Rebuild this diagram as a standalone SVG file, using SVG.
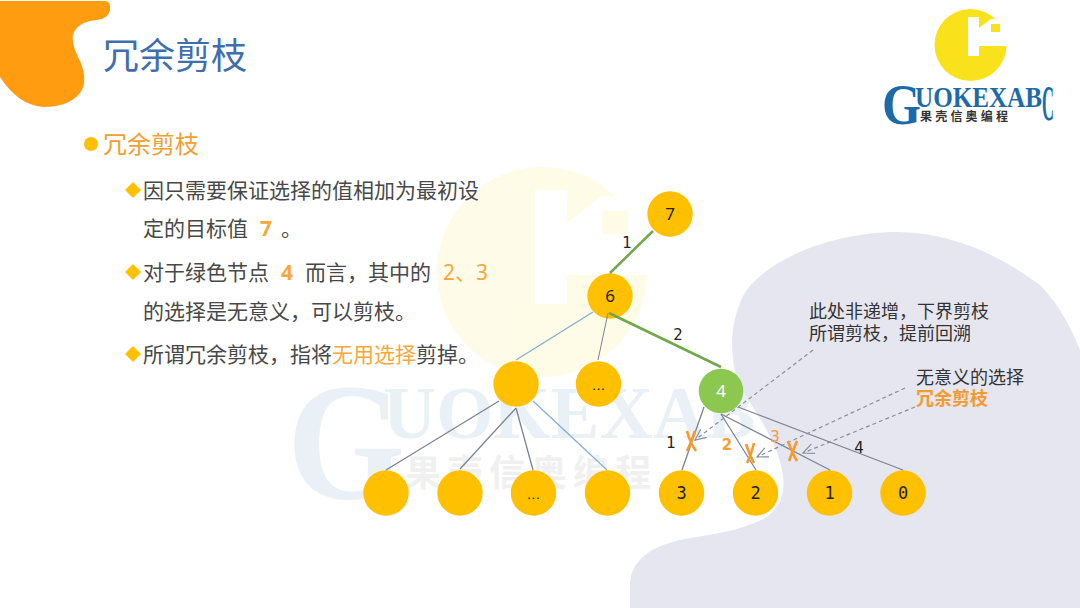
<svg xmlns="http://www.w3.org/2000/svg" width="1080" height="608" viewBox="0 0 1080 608">
<style>
text{font-family:"Noto Sans CJK SC","Noto Sans",sans-serif}
.body{font-size:21px;fill:#484848}
.hi{font-size:21px;fill:#F9A63A}
.num{font-family:"Noto Sans","Noto Sans CJK SC",sans-serif}
.call{font-size:18px;fill:#333}
.n{fill:#FFC000}
.nt{font-family:"Noto Sans",sans-serif;font-size:17px;fill:#222;text-anchor:middle}
.mono{font-family:"DejaVu Sans Mono",monospace;font-size:17px;fill:#222;text-anchor:middle}
.el{font-family:"DejaVu Sans",sans-serif;font-size:15px;fill:#222;text-anchor:middle}
.elo{font-family:"DejaVu Sans",sans-serif;font-size:15px;fill:#F5A033;text-anchor:middle;font-weight:bold}
.dots{font-family:"Liberation Sans",sans-serif;font-size:14px;fill:#222;text-anchor:middle}
.g{stroke:#70A84A;stroke-width:2.5;fill:none}
.b{stroke:#7FAED8;stroke-width:1.2;fill:none}
.k{stroke:#7C8492;stroke-width:1.3;fill:none}
.d{stroke:#8A8E9C;stroke-width:1.2;stroke-dasharray:4 3;fill:none}
.x{stroke:#F59A2E;stroke-width:2.6;fill:none}
.dia{fill:#FFC000}
.lg{font-family:"Liberation Serif",serif;font-weight:bold;fill:#1B6BA8}
</style>
<defs>
<marker id="a" markerWidth="14" markerHeight="14" refX="12" refY="7" orient="auto" markerUnits="userSpaceOnUse"><path d="M1 2L12 7L1 12" fill="none" stroke="#8A8E9C" stroke-width="1.2"/></marker>
<g id="mark">
<circle cx="970.5" cy="45" r="36" fill="#F9E21C"/>
<path d="M968 17H979V28L991 19H1010V46H979V56H968Z" fill="#fff"/>
<rect x="991" y="24" width="9" height="8" fill="#F9E21C"/>
</g>
<path id="dm" d="M0-8L8 0L0 8L-8 0Z"/>
</defs>

<g id="background">
<path d="M0 1H105Q111 1 110 10Q108 19 97 20Q80 21 74 32Q70 40 78 57Q88 76 82 90Q72 107 43 107Q18 105 0 77Z" fill="#FF9C0F"/>
<g id="watermark-mark" opacity="0.1" transform="translate(542 272) scale(2.917) translate(-970.5 -45)"><use href="#mark"/></g>
<g id="watermark-text" opacity="0.09">
<text class="lg" x="287" y="498" font-size="168" textLength="118" lengthAdjust="spacingAndGlyphs">G</text>
<text class="lg" x="383" y="438" font-size="73" textLength="372" lengthAdjust="spacingAndGlyphs">UOKEXAB</text>
</g>
<text x="405" y="486" font-size="36" letter-spacing="6" fill="#F0F0F0" font-weight="bold">果壳信奥编程</text>
<path d="M630 608V583C632 560 650 547 680 540C705 535 740 532 765 518C782 506 788 490 780 462C772 430 745 400 736 375C730 350 730 325 742 298C760 262 830 232 897 232C950 232 1000 255 1040 285C1060 305 1072 330 1080 350V608Z" fill="#E6E6F0"/>
</g>

<g id="logo">
<use href="#mark"/>
<text class="lg" x="882" y="124" font-size="57" textLength="39" lengthAdjust="spacingAndGlyphs">G</text>
<text class="lg" x="915" y="107" font-size="29" textLength="127" lengthAdjust="spacingAndGlyphs">UOKEXAB</text>
<text x="1042" y="120" font-size="50" font-weight="bold" style="font-family:'Liberation Serif',serif" fill="#1B6BA8" textLength="12" lengthAdjust="spacingAndGlyphs">C</text>
<text x="920" y="121" font-size="12" letter-spacing="3.2" fill="#333" font-weight="bold">果壳信奥编程</text>
</g>

<g id="title">
<text x="103" y="69" font-size="36" fill="#3F6EAE">冗余剪枝</text>
</g>

<g id="bullets">
<circle cx="91" cy="144" r="7" fill="#FFC000"/>
<text x="103" y="153" font-size="24" fill="#F0A030">冗余剪枝</text>
<use href="#dm" class="dia" x="133" y="190"/>
<text class="body" x="143" y="198">因只需要保证选择的值相加为最初设</text>
<text class="body" x="143" y="236">定的目标值</text>
<text class="hi num" x="260" y="236" font-weight="bold">7</text>
<text class="body" x="281" y="236">。</text>
<use href="#dm" class="dia" x="133" y="272"/>
<text class="body" x="143" y="280">对于绿色节点</text>
<text class="hi num" x="281" y="280" font-weight="bold">4</text>
<text class="body" x="305" y="280">而言，其中的</text>
<text class="hi num" x="443" y="280">2、3</text>
<text class="body" x="143" y="319">的选择是无意义，可以剪枝。</text>
<use href="#dm" class="dia" x="133" y="354"/>
<text class="body" x="143" y="362">所谓冗余剪枝，指将</text>
<text class="hi" x="332" y="362">无用选择</text>
<text class="body" x="416" y="362">剪掉。</text>
</g>

<g id="n7"><circle class="n" cx="670" cy="214" r="22.7"/><text class="nt" x="670" y="220">7</text></g>
<g id="n6"><circle class="n" cx="610" cy="296" r="22.7"/><text class="nt" x="610" y="302">6</text></g>
<g id="na"><circle class="n" cx="516" cy="384" r="22.7"/></g>
<g id="nb"><circle class="n" cx="598.5" cy="384" r="22.7"/><text class="dots" x="598.5" y="390">…</text></g>
<g id="n4"><circle cx="721" cy="391" r="22.3" fill="#8CC850"/><text class="nt" x="721" y="397" style="fill:#fff">4</text></g>
<g id="c1"><circle class="n" cx="386" cy="493" r="22.7"/></g>
<g id="c2"><circle class="n" cx="460" cy="493" r="22.7"/></g>
<g id="c3"><circle class="n" cx="533.5" cy="493" r="22.7"/><text class="dots" x="533.5" y="499">…</text></g>
<g id="c4"><circle class="n" cx="607.5" cy="493" r="22.7"/></g>
<g id="c5"><circle class="n" cx="681.5" cy="493" r="22.7"/><text class="mono" x="681.5" y="499">3</text></g>
<g id="c6"><circle class="n" cx="755.5" cy="493" r="22.7"/><text class="mono" x="755.5" y="499">2</text></g>
<g id="c7"><circle class="n" cx="829.5" cy="493" r="22.7"/><text class="mono" x="829.5" y="499">1</text></g>
<g id="c8"><circle class="n" cx="903" cy="493" r="22.7"/><text class="mono" x="903" y="499">0</text></g>

<g id="connectors">
<path class="g" d="M653 231L610 273"/>
<path class="g" d="M609 313L721 367"/>
<path class="b" d="M593 312L516 360"/>
<path class="k" style="stroke-width:1" d="M608 313L598 360"/>
<path class="k" d="M499 401L386 470"/>
<path class="k" d="M516 408L460 469"/>
<path class="k" d="M516 408L533 470"/>
<path class="b" d="M533 401L607 470"/>
<path class="k" d="M704 407L682 470"/>
<path class="k" d="M721 414L756 470"/>
<path class="k" d="M721 414L830 470"/>
<path class="k" d="M738 407L903 470"/>
<path class="d" marker-end="url(#a)" d="M813 350L695 440"/>
<path class="d" marker-end="url(#a)" d="M905 388L757 457"/>
<path class="d" marker-end="url(#a)" d="M915 407L803 453"/>
<g id="crosses">
<path class="x" d="M687 431Q690 443 696 451M695 431Q691 443 687 451"/>
<path class="x" d="M746 444Q750 456 754 463M754 443Q751 455 747 463"/>
<path class="x" d="M788 441Q792 453 797 461M797 441Q792 453 789 461"/>
</g>
</g>

<g id="edge-labels">
<text class="el" x="627" y="248">1</text>
<text class="el" x="678" y="340">2</text>
<text class="el" x="671" y="448">1</text>
<text class="elo" x="727" y="450">2</text>
<text class="elo" x="775" y="442" style="font-weight:normal">3</text>
<text class="el" x="859" y="453">4</text>
</g>

<g id="callouts">
<text class="call" x="809" y="318">此处非递增，下界剪枝</text>
<text class="call" x="809" y="340">所谓剪枝，提前回溯</text>
<text class="call" x="916" y="384">无意义的选择</text>
<text x="916" y="405" font-size="18" font-weight="bold" fill="#F59A2E">冗余剪枝</text>
</g>
</svg>
